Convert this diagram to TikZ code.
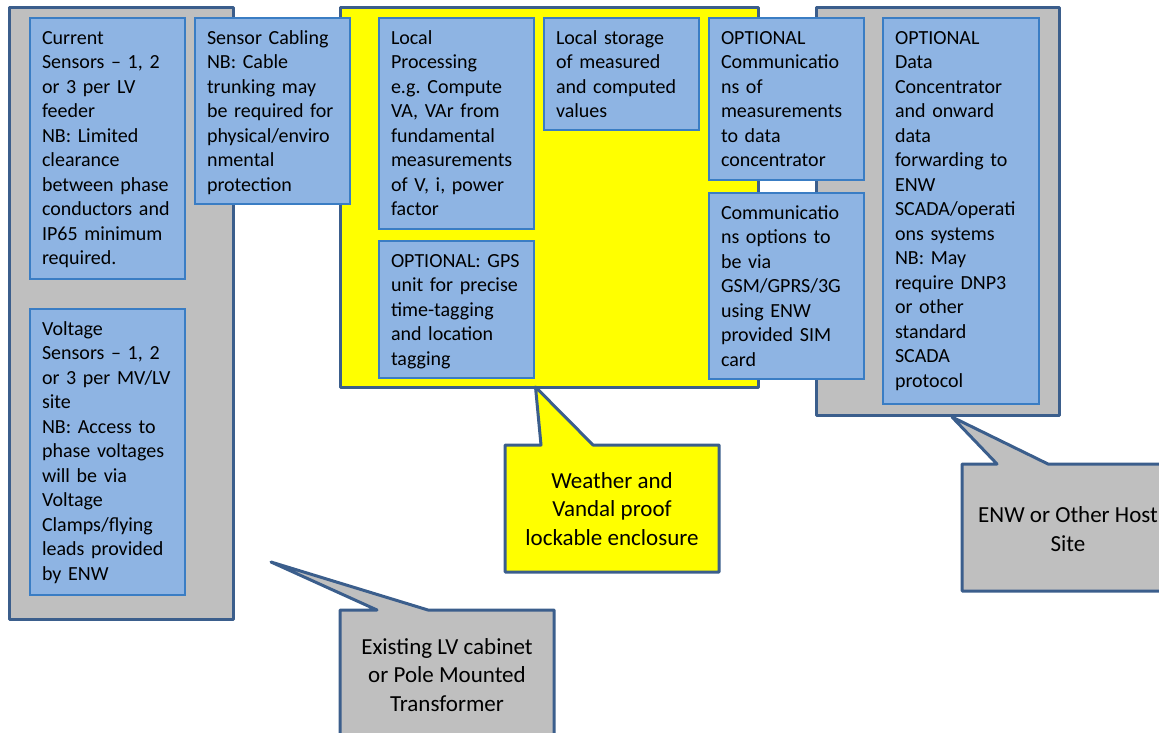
\documentclass[tikz,border=0pt]{standalone}
\usepackage{fontspec}
\setmainfont{Carlito}
\frenchspacing
\definecolor{gfill}{HTML}{BFBFBF}
\definecolor{yfill}{HTML}{FFFF00}
\definecolor{bfill}{HTML}{8EB4E3}
\definecolor{bline}{HTML}{3A7DC4}
\definecolor{dline}{HTML}{3B5E8C}
\tikzset{
  outerg/.style={draw=dline, fill=gfill, line width=3pt, line join=round},
  outery/.style={draw=dline, fill=yfill, line width=3pt, line join=round},
  inbox/.style={draw=bline, fill=bfill, line width=1.4pt, inner sep=0pt, outer sep=0pt, anchor=north west},
  btext/.style={anchor=north west, inner sep=0pt, outer sep=0pt, align=left, text width=150pt,
     font=\fontsize{20}{24.5}\selectfont\frenchspacing, execute at begin node=\strut},
  ctext/.style={align=center, inner sep=0pt, font=\fontsize{23}{28.3}\selectfont\frenchspacing},
}
\newcommand\bx[6]{%
  \node[inbox, minimum width=#4pt, minimum height=#5pt] (#1) at (#2,#3) {};
  \node[btext] (#1t) at ([shift={(12pt,-9.2pt)}]#1.north west) {#6};
}
\begin{document}
\begin{tikzpicture}[x=1pt,y=-1pt]
\path[use as bounding box] (0,0) rectangle (1159,733);
\clip (0,0) rectangle (1159,733);
% outer enclosures
\path[outerg] (9,8) rectangle (233,619);
\path[outery] (340,8) rectangle (758,387);
\path[outerg] (816,8) rectangle (1059,415);
% inner boxes
\bx{cur}{30}{18}{155}{261}{Current\\Sensors – 1, 2\\or 3 per LV\\feeder\\NB: Limited\\clearance\\between phase\\conductors and\\IP65 minimum\\required.}
\bx{volt}{30}{309}{155}{286}{Voltage\\Sensors – 1, 2\\or 3 per MV/LV\\site\\NB: Access to\\phase voltages\\will be via\\Voltage\\Clamps/flying\\leads provided\\by ENW}
\bx{cab}{195}{18}{155}{186}{Sensor Cabling\\NB: Cable\\trunking may\\be required for\\physical/enviro\\nmental\\protection}
\bx{lp}{379}{18}{155}{211}{Local\\Processing\\e.g. Compute\\VA, VAr from\\fundamental\\measurements\\of V, i, power\\factor}
\bx{gps}{379}{241}{155}{137}{OPTIONAL: GPS\\unit for precise\\time-tagging\\and location\\tagging}
\bx{ls}{544}{18}{155}{112}{Local storage\\of measured\\and computed\\values}
\bx{oc}{709}{18}{155}{162}{OPTIONAL\\Communicatio\\ns of\\measurements\\to data\\concentrator}
\bx{co}{709}{193}{155}{186}{Communicatio\\ns options to\\be via\\GSM/GPRS/3G\\using ENW\\provided SIM\\card}
\bx{dc}{883}{18}{156}{386}{OPTIONAL\\Data\\Concentrator\\and onward\\data\\forwarding to\\ENW\\SCADA/operati\\ons systems\\NB: May\\require DNP3\\or other\\standard\\SCADA\\protocol}
% callouts
\path[outery] (505,445) -- (541,445) -- (535.5,387) -- (593,445) -- (719,445) -- (719,572) -- (505,572) -- cycle;
\node[ctext] (weather) at (612,509) {Weather and\\Vandal proof\\lockable enclosure};
\path[outerg] (340,610) -- (377,610) -- (271,562) -- (428,610) -- (554,610) -- (554,740) -- (340,740) -- cycle;
\node[ctext] (lvcab) at (447,675) {Existing LV cabinet\\or Pole Mounted\\Transformer};
\path[outerg] (962,464) -- (997,464) -- (952,417) -- (1048,464) -- (1174,464) -- (1174,591) -- (962,591) -- cycle;
\node[ctext] (host) at (1068,529) {ENW or Other Host\\Site};
\end{tikzpicture}
\end{document}
